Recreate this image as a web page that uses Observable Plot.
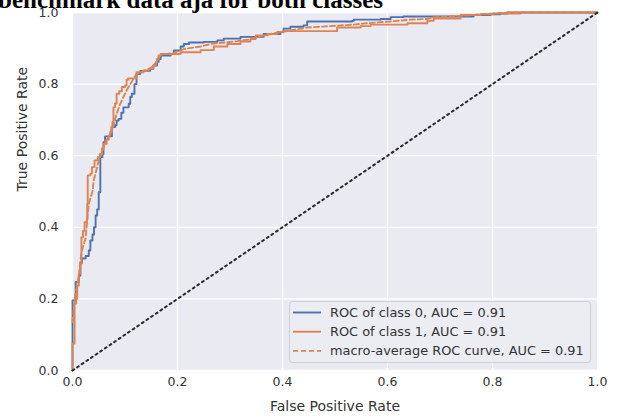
<!DOCTYPE html>
<html>
<head>
<meta charset="utf-8">
<script src="https://cdn.jsdelivr.net/npm/d3@7"></script>
<script src="https://cdn.jsdelivr.net/npm/@observablehq/plot@0.6"></script>
<style>
  html, body { margin: 0; padding: 0; background: #fff; overflow: hidden; }
  #wrap { position: relative; width: 618px; height: 420px; }
  #title { position: absolute; left: -2px; top: -13px; font: bold 25px "Liberation Serif", "DejaVu Serif", serif; line-height: 25px; white-space: nowrap; color: #000; z-index: 2; }
  #legend { position: absolute; left: 289px; top: 301px; z-index: 3; }
</style>
</head>
<body>
<div id="wrap">
  <div id="chart"></div>
  <div id="title"></div>
  <div id="legend"></div>
</div>
<script>
const titleText = "benchmark data aja for both classes";
const xLabel = "False Positive Rate";
const yLabel = "True Positive Rate";
const tickValues = [0, 0.2, 0.4, 0.6, 0.8, 1.0];

// ROC of class 0
const fpr0 = [0, 0, 0.006, 0.012, 0.015, 0.018, 0.025, 0.031, 0.034, 0.038, 0.041, 0.044, 0.047, 0.050, 0.053, 0.057, 0.059, 0.062, 0.075, 0.081, 0.084, 0.088, 0.093, 0.097, 0.107, 0.110, 0.113, 0.118, 0.122, 0.129, 0.148, 0.154, 0.161, 0.164, 0.168, 0.187, 0.193, 0.206, 0.212, 0.222, 0.250, 0.276, 0.288, 0.320, 0.364, 0.396, 0.402, 0.415, 0.440, 0.447, 0.533, 0.536, 0.587, 0.606, 0.630, 0.764, 0.796, 0.815, 0.829, 1];
const tpr0 = [0, 0.196, 0.247, 0.265, 0.300, 0.313, 0.320, 0.335, 0.363, 0.380, 0.400, 0.433, 0.450, 0.498, 0.596, 0.605, 0.638, 0.654, 0.680, 0.685, 0.698, 0.703, 0.720, 0.735, 0.745, 0.764, 0.773, 0.800, 0.828, 0.837, 0.843, 0.852, 0.862, 0.870, 0.880, 0.884, 0.894, 0.905, 0.912, 0.916, 0.918, 0.922, 0.927, 0.932, 0.940, 0.946, 0.955, 0.960, 0.964, 0.975, 0.977, 0.980, 0.982, 0.987, 0.989, 0.993, 0.995, 0.997, 1.0, 1.0];

// ROC of class 1
const fpr1 = [0, 0, 0.004, 0.007, 0.009, 0.012, 0.015, 0.017, 0.020, 0.023, 0.027, 0.028, 0.029, 0.034, 0.037, 0.042, 0.048, 0.052, 0.056, 0.059, 0.065, 0.069, 0.072, 0.074, 0.076, 0.078, 0.081, 0.084, 0.089, 0.094, 0.100, 0.103, 0.106, 0.122, 0.135, 0.145, 0.154, 0.159, 0.161, 0.164, 0.168, 0.206, 0.244, 0.269, 0.295, 0.320, 0.339, 0.349, 0.371, 0.390, 0.402, 0.504, 0.549, 0.568, 0.638, 0.676, 0.688, 0.739, 0.777, 0.802, 0.853, 1];
const tpr1 = [0, 0.075, 0.187, 0.200, 0.237, 0.270, 0.298, 0.372, 0.390, 0.414, 0.420, 0.465, 0.545, 0.550, 0.568, 0.587, 0.596, 0.605, 0.620, 0.633, 0.645, 0.656, 0.666, 0.680, 0.694, 0.735, 0.746, 0.773, 0.780, 0.792, 0.796, 0.812, 0.816, 0.833, 0.838, 0.843, 0.852, 0.862, 0.870, 0.880, 0.884, 0.889, 0.895, 0.905, 0.912, 0.919, 0.926, 0.936, 0.940, 0.946, 0.948, 0.958, 0.962, 0.966, 0.970, 0.977, 0.983, 0.993, 0.995, 0.997, 1.0, 1.0];

// macro-average ROC
const fprM = [0, 0.005, 0.012, 0.017, 0.025, 0.031, 0.038, 0.041, 0.047, 0.050, 0.053, 0.056, 0.062, 0.072, 0.078, 0.084, 0.091, 0.097, 0.103, 0.110, 0.116, 0.122, 0.135, 0.148, 0.154, 0.160, 0.164, 0.168, 0.193, 0.212, 0.244, 0.263, 0.314, 0.339, 0.352, 0.377, 0.415, 0.447, 0.535, 0.560, 0.606, 0.644, 0.676, 0.688, 0.739, 0.777, 0.829, 1];
const tprM = [0.135, 0.21, 0.265, 0.33, 0.37, 0.465, 0.50, 0.535, 0.568, 0.587, 0.60, 0.605, 0.638, 0.66, 0.684, 0.717, 0.745, 0.764, 0.782, 0.80, 0.815, 0.828, 0.836, 0.843, 0.852, 0.862, 0.875, 0.882, 0.887, 0.898, 0.905, 0.912, 0.92, 0.925, 0.932, 0.94, 0.95, 0.958, 0.966, 0.97, 0.975, 0.98, 0.982, 0.987, 0.99, 0.995, 1.0, 1.0];

// chance diagonal
const diagX = [0, 1];
const diagY = [0, 1];

const legendLabels = ["ROC of class 0, AUC = 0.91", "ROC of class 1, AUC = 0.91", "macro-average ROC curve, AUC = 0.91"];
const legendColors = ["#4C72B0", "#DD8452", "#DD8452"];
const legendDash = [null, null, "5,3"];

const toPts = (xs, ys) => xs.map((x, i) => ({x, y: ys[i]}));
const c0 = toPts(fpr0, tpr0);
const c1 = toPts(fpr1, tpr1);
const cM = toPts(fprM, tprM);
const cD = toPts(diagX, diagY);

const chart = Plot.plot({
  width: 618,
  height: 420,
  marginLeft: 72,
  marginRight: 21,
  marginTop: 12,
  marginBottom: 50,
  style: {fontFamily: "DejaVu Sans", fontSize: "12.5px", color: "#333", background: "#fff", overflow: "visible"},
  x: {domain: [0, 1]},
  y: {domain: [0, 1]},
  marks: [
    Plot.frame({fill: "#EAEAF2", stroke: null}),
    Plot.gridX(tickValues, {stroke: "#fff", strokeOpacity: 1, strokeWidth: 1.3}),
    Plot.gridY(tickValues, {stroke: "#fff", strokeOpacity: 1, strokeWidth: 1.3}),
    Plot.axisX(tickValues, {tickSize: 0, tickPadding: 7, tickFormat: d3.format(".1f"), label: null}),
    Plot.axisY(tickValues, {tickSize: 0, tickPadding: 14, tickFormat: d3.format(".1f"), label: null}),
    Plot.text([xLabel], {text: d => d, frameAnchor: "bottom", dy: 40, fontSize: 14, fill: "#333"}),
    Plot.text([yLabel], {text: d => d, frameAnchor: "left", dx: -50, rotate: -90, fontSize: 14, fill: "#333"}),
    Plot.line(c0, {x: "x", y: "y", stroke: "#4C72B0", strokeWidth: 1.9, curve: "step-after"}),
    Plot.line(c1, {x: "x", y: "y", stroke: "#DD8452", strokeWidth: 1.9, curve: "step-after"}),
    Plot.line(cM, {x: "x", y: "y", stroke: "#DD8452", strokeWidth: 1.9, strokeDasharray: "5,3"}),
    Plot.line(cD, {x: "x", y: "y", stroke: "#2a2a2a", strokeWidth: 2, strokeDasharray: "2,3.6"})
  ]
});
document.getElementById("chart").appendChild(chart);
document.getElementById("title").textContent = titleText;

// legend
const lw = 302, lh = 62, rowH = 19.2, row0 = 11.5;
const lsvg = d3.select("#legend").append("svg").attr("width", lw).attr("height", lh)
  .style("font-family", "DejaVu Sans").style("font-size", "12.9px");
lsvg.append("rect").attr("x", 0.5).attr("y", 0.5).attr("width", lw - 1).attr("height", lh - 1)
  .attr("rx", 3).attr("fill", "#ECECF3").attr("stroke", "#cfcfd6");
legendLabels.forEach((lab, i) => {
  const cy = row0 + i * rowH;
  lsvg.append("line").attr("x1", 4).attr("x2", 32).attr("y1", cy).attr("y2", cy)
    .attr("stroke", legendColors[i]).attr("stroke-width", 1.9)
    .attr("stroke-dasharray", legendDash[i]);
  lsvg.append("text").attr("x", 41).attr("y", cy).attr("dy", "0.35em").attr("fill", "#333").text(lab);
});
</script>
</body>
</html>
